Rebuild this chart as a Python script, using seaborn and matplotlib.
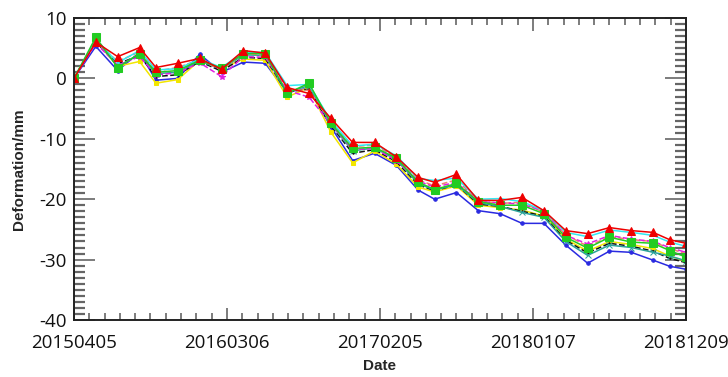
import matplotlib
matplotlib.use("Agg")
import matplotlib.pyplot as plt
import matplotlib.dates as mdates
from matplotlib.ticker import FixedLocator, FixedFormatter, AutoMinorLocator, MultipleLocator
import seaborn as sns
import pandas as pd

dates = ["2015-04-05", "2015-05-23", "2015-07-10", "2015-08-27", "2015-10-02",
         "2015-11-19", "2016-01-06", "2016-02-23", "2016-04-11", "2016-05-29",
         "2016-07-16", "2016-09-02", "2016-10-20", "2016-12-07", "2017-01-24",
         "2017-03-13", "2017-04-30", "2017-06-05", "2017-07-23", "2017-09-09",
         "2017-10-27", "2017-12-14", "2018-01-31", "2018-03-20", "2018-05-07",
         "2018-06-24", "2018-08-11", "2018-09-28", "2018-11-03", "2018-12-09"]

blue = [0, 5.3, 1.3, 4.3, -0.3, 0.0, 4.0, 1.0, 2.7, 2.5, -2.3, -1.6, -8.0, -13.6, -12.4,
        -14.4, -18.5, -20.0, -18.9, -21.9, -22.4, -24.0, -24.0, -27.6, -30.6, -28.6, -28.8,
        -30.1, -31.1, -31.6]
yellow = [0, 6.2, 2.0, 2.8, -0.8, -0.2, 3.0, 1.6, 3.2, 3.0, -3.1, -1.5, -8.9, -14.0, -12.0,
          -14.2, -18.0, -18.8, -17.8, -21.0, -21.4, -21.8, -22.8, -26.6, -28.6, -27.0, -27.5,
          -28.2, -29.4, -30.3]
black = [0, 6.0, 2.4, 3.8, 0.3, 0.6, 2.8, 1.2, 3.5, 3.3, -2.2, -1.8, -7.8, -12.4, -11.8,
         -13.8, -17.6, -18.6, -17.6, -20.8, -21.2, -22.0, -22.8, -26.8, -28.9, -27.3, -27.8,
         -28.6, -29.8, -30.5]
teal = [0, 6.4, 2.0, 4.0, 0.8, 1.0, 2.9, 1.5, 3.9, 3.8, -2.3, -1.2, -7.6, -12.0, -11.5,
        -13.5, -17.4, -18.5, -17.6, -20.6, -21.2, -22.2, -23.0, -27.0, -29.3, -27.6, -28.0,
        -28.8, -29.4, -30.2]
salmon = [0, 6.1, 2.8, 4.4, 1.2, 1.8, 3.1, 1.4, 4.2, 3.8, -1.8, -2.0, -7.2, -11.3, -11.0,
          -13.1, -16.8, -17.8, -16.8, -20.3, -20.7, -20.5, -22.2, -25.9, -27.8, -26.2, -26.7,
          -27.0, -28.2, -29.0]
magenta = [0, 5.8, 2.2, 3.6, 0.6, 0.9, 2.6, 0.3, 3.6, 3.5, -2.0, -3.1, -7.5, -11.8, -11.6,
           -13.6, -17.0, -18.0, -17.2, -20.4, -20.6, -20.8, -22.0, -26.0, -27.4, -26.0, -26.6,
           -27.0, -28.0, -28.8]
cyan = [0, 6.5, 2.6, 4.6, 1.4, 1.6, 3.2, 1.8, 4.3, 4.3, -1.2, -1.0, -7.0, -11.2, -10.9,
        -12.8, -16.6, -16.9, -16.5, -20.0, -19.9, -20.4, -21.9, -25.5, -26.2, -25.1, -25.5,
        -26.0, -27.1, -27.8]
green = [0, 6.8, 1.8, 4.1, 1.0, 1.3, 3.0, 1.7, 4.1, 4.1, -2.5, -0.8, -7.4, -11.6, -11.4,
         -13.2, -17.2, -18.4, -17.4, -20.4, -21.0, -21.0, -22.4, -26.3, -28.1, -26.3, -27.1,
         -27.3, -28.5, -29.6]
red = [0, 6.0, 3.6, 5.1, 1.8, 2.5, 3.3, 1.5, 4.6, 4.2, -1.5, -2.5, -6.6, -10.6, -10.6,
       -13.0, -16.4, -17.2, -15.9, -20.2, -20.2, -19.7, -21.9, -25.2, -25.7, -24.7, -25.2,
       -25.5, -26.7, -27.3]

tick_dates = ["2015-04-05", "2016-03-06", "2017-02-05", "2018-01-07", "2018-12-09"]
tick_labels = ["20150405", "20160306", "20170205", "20180107", "20181209"]

# (values, colour, marker, marker size, linestyle)
series = [
    (blue, "#2a2ae0", "o", 2.5, "-"),
    (yellow, "#f2e600", "s", 2.5, "-"),
    (black, "#111111", ".", 2, "--"),
    (teal, "#2aa39a", "x", 4, "-"),
    (salmon, "#f08070", ".", 2, "--"),
    (magenta, "#e020e0", "*", 4, "--"),
    (cyan, "#30e8f0", ".", 2, "-"),
    (green, "#22cc22", "s", 5.5, "-"),
    (red, "#ee0000", "^", 6, "-"),
]

sns.set_style("ticks")
plt.rcParams["axes.unicode_minus"] = False

fig = plt.figure(figsize=(7.28, 3.77), dpi=100)
ax = fig.add_axes([0.1016, 0.1512, 0.8407, 0.8011])

x = pd.to_datetime(dates)
for vals, col, mk, ms, ls in series:
    sns.lineplot(x=x, y=vals, ax=ax, color=col, marker=mk, markersize=ms,
                 markeredgecolor=col, linestyle=ls, linewidth=1.1, legend=False)

x0 = mdates.date2num(pd.Timestamp(tick_dates[0]))
x1 = mdates.date2num(pd.Timestamp(tick_dates[-1]))
ax.set_xlim(x0, x1)
ax.set_ylim(-40, 10)

ax.xaxis.set_major_locator(FixedLocator([mdates.date2num(pd.Timestamp(d)) for d in tick_dates]))
ax.xaxis.set_major_formatter(FixedFormatter(tick_labels))
ax.xaxis.set_minor_locator(AutoMinorLocator(10))
ax.yaxis.set_major_locator(MultipleLocator(10))
ax.yaxis.set_minor_locator(MultipleLocator(1))

for s in ax.spines.values():
    s.set_color("#222222")
    s.set_linewidth(1.4)

ax.tick_params(which="both", direction="in", top=True, right=True, colors="#666666",
               labelcolor="#111111", labelsize=13.5)
ax.tick_params(axis="x", which="major", length=9, width=1.2, pad=10)
ax.tick_params(axis="x", which="minor", length=5, width=1.2)
ax.tick_params(axis="y", which="major", length=15, width=1.2, pad=5)
ax.tick_params(axis="y", which="minor", length=8, width=1.6)
for lab in ax.get_xticklabels() + ax.get_yticklabels():
    lab.set_family("Open Sans")

ax.set_xlabel("Date", fontsize=11, fontweight="bold", family="Liberation Sans", labelpad=5)
ax.set_ylabel("Deformation/mm", fontsize=11, fontweight="bold", family="Liberation Sans", labelpad=10)

fig.savefig("out.png", dpi=100)
